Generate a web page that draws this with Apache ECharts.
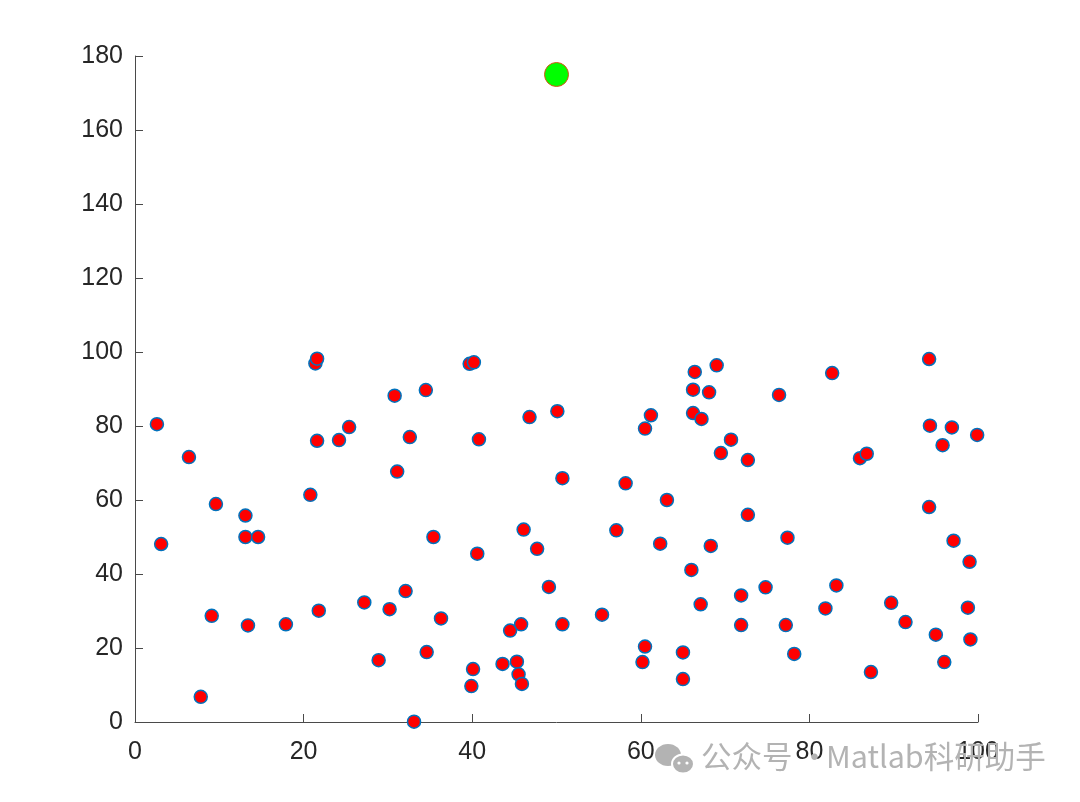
<!DOCTYPE html>
<html>
<head>
<meta charset="utf-8">
<script src="https://cdn.jsdelivr.net/npm/echarts@6/dist/echarts.min.js"></script>
<style>html,body{margin:0;padding:0;background:#fff;}#chart{width:1080px;height:802px;}</style>
</head>
<body>
<div id="chart"></div>
<script>
const xTicks = [0, 20, 40, 60, 80, 100];
const yTicks = [0, 20, 40, 60, 80, 100, 120, 140, 160, 180];
const xs = [2.6,3.1,6.4,7.8,9.1,9.6,13.1,13.1,13.4,14.6,17.9,20.8,21.4,21.6,21.6,21.8,24.2,25.4,27.2,28.9,
  30.2,30.8,31.1,32.1,32.6,33.1,34.5,34.6,35.4,36.3,39.7,40.2,39.9,40.1,40.6,40.8,43.6,44.5,45.3,45.5,
  45.8,45.9,46.1,46.8,47.7,49.1,50.1,50.7,50.7,55.4,57.1,58.2,60.2,60.5,60.5,61.2,62.3,63.1,65.0,65.0,
  66.0,66.2,66.4,66.2,67.2,67.1,68.1,68.3,69.0,69.5,70.7,71.9,71.9,72.7,72.7,74.8,76.4,77.2,77.4,78.2,
  81.9,82.7,83.2,86.0,86.8,87.3,89.7,91.4,94.2,94.3,94.2,95.0,95.8,96.0,96.9,97.1,98.8,99.0,99.1,99.9];
const ys = [80.5,48.1,71.6,6.8,28.7,58.9,55.8,50.0,26.1,50.0,26.4,61.4,96.9,98.2,76.0,30.1,76.2,79.7,32.3,16.7,
  30.5,88.2,67.7,35.4,77.0,0.1,89.7,18.9,50.0,28.0,96.8,97.2,9.7,14.3,45.5,76.4,15.7,24.7,16.3,12.9,
  26.4,10.3,52.0,82.4,46.8,36.5,84.0,26.4,65.9,29.0,51.8,64.5,16.2,20.4,79.3,82.9,48.2,60.0,18.8,11.6,
  41.1,89.8,94.6,83.5,81.9,31.8,89.1,47.6,96.4,72.7,76.3,34.2,26.2,70.8,56.0,36.4,88.4,26.2,49.8,18.4,
  30.7,94.3,36.9,71.3,72.5,13.5,32.2,27.0,98.1,80.1,58.1,23.6,74.8,16.2,79.6,49.0,30.9,43.3,22.3,77.6];
const highlightX = [50];
const highlightY = [175];
const watermarkA = '公众号 ·';
const watermarkB = 'Matlab科研助手';

const pts = xs.map((x, i) => [x, ys[i]]);
const hi = highlightX.map((x, i) => [x, highlightY[i]]);

const chart = echarts.init(document.getElementById('chart'));
const axisColor = '#4a4a4a';
const labelStyle = {color: '#262626', fontSize: 25, fontFamily: 'Liberation Sans, Arial, sans-serif'};
const wmColor = '#b3b3b3';
const wmFont = '30.5px "Noto Sans CJK SC", "Noto Sans", sans-serif';
chart.setOption({
  backgroundColor: '#fff',
  animation: false,
  grid: {left: 135, right: 102, top: 56, bottom: 80, containLabel: false},
  xAxis: {
    type: 'value', min: 0, max: 100, interval: 20,
    axisLine: {show: true, lineStyle: {color: axisColor, width: 1}},
    axisTick: {show: true, inside: true, length: 8, lineStyle: {color: axisColor}},
    axisLabel: Object.assign({margin: 18, formatter: v => xTicks.includes(v) ? String(v) : ''}, labelStyle),
    splitLine: {show: false}
  },
  yAxis: {
    type: 'value', min: 0, max: 180, interval: 20,
    axisLine: {show: true, lineStyle: {color: axisColor, width: 1}},
    axisTick: {show: true, inside: true, length: 8, lineStyle: {color: axisColor}},
    axisLabel: Object.assign({margin: 12, padding: [5, 0, 0, 0], formatter: v => yTicks.includes(v) ? String(v) : ''}, labelStyle),
    splitLine: {show: false}
  },
  series: [
    {
      type: 'scatter', data: pts, symbol: 'circle', symbolSize: 13,
      itemStyle: {color: '#ff0000', borderColor: '#0072BD', borderWidth: 1.5, opacity: 1}
    },
    {
      type: 'scatter', data: hi, symbol: 'circle', symbolSize: 24,
      itemStyle: {color: '#00ff00', borderColor: '#D95319', borderWidth: 1, opacity: 1}
    }
  ],
  graphic: [
    {type: 'ellipse', shape: {cx: 668, cy: 755, rx: 13, ry: 11}, style: {fill: wmColor}, z: 100},
    {type: 'ellipse', shape: {cx: 683, cy: 764, rx: 11, ry: 9.5}, style: {fill: wmColor, stroke: '#fff', lineWidth: 2}, z: 101},
    {type: 'circle', shape: {cx: 679, cy: 763, r: 1.6}, style: {fill: '#fff'}, z: 102},
    {type: 'circle', shape: {cx: 687, cy: 763, r: 1.6}, style: {fill: '#fff'}, z: 102},
    {type: 'text', left: 701, top: 741, z: 90, style: {text: watermarkA, fill: wmColor, font: wmFont}},
    {type: 'text', left: 826, top: 741, z: 90, style: {text: watermarkB, fill: wmColor, font: wmFont}}
  ]
});
</script>
</body>
</html>
